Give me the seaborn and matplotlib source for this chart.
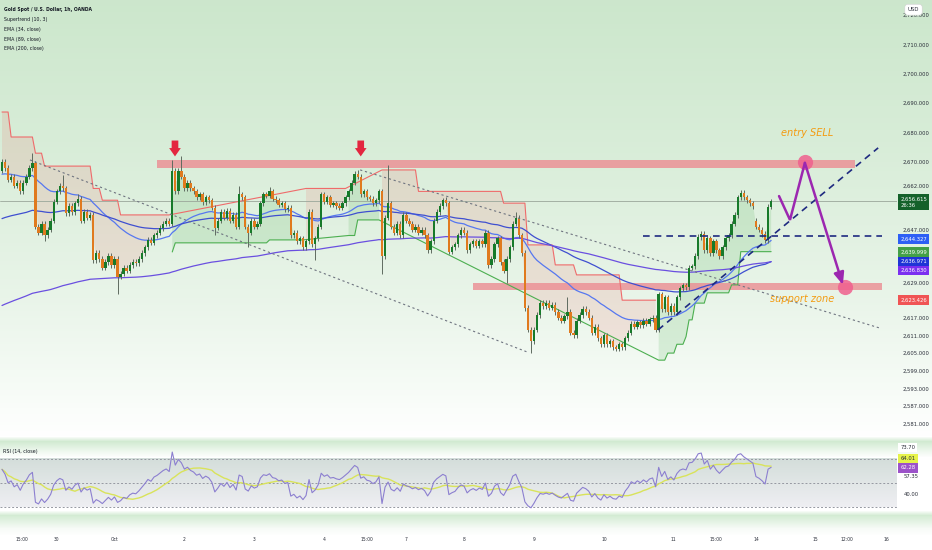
import numpy as np
import pandas as pd
import matplotlib
matplotlib.use("Agg")
import matplotlib.pyplot as plt
import matplotlib.transforms as mtransforms
from matplotlib import font_manager as fm
import seaborn as sns

# ---------------- data ----------------
closes = [
    2670, 2668, 2664, 2665, 2662, 2663, 2660, 2663, 2665, 2668,
    2669.5, 2648, 2646, 2649, 2645, 2647, 2650, 2656.5, 2660, 2662,
    2661, 2652.5, 2655, 2653, 2656, 2657.5, 2650, 2653, 2651, 2652,
    2636.5, 2639, 2637, 2634, 2636, 2638, 2635, 2637, 2631, 2632,
    2634, 2633, 2635, 2636, 2635.5, 2637, 2639, 2641, 2643.5, 2642.5,
    2645, 2646, 2647.5, 2649, 2650, 2649, 2667, 2660, 2667, 2665,
    2661, 2663, 2661, 2660, 2658, 2659, 2656.3, 2658, 2657, 2654.5,
    2647.7, 2650, 2653, 2651, 2653.5, 2650, 2652, 2648, 2659, 2658,
    2648, 2646, 2650, 2648, 2649, 2656, 2659, 2658.5, 2660, 2657.5,
    2657, 2655.5, 2656, 2654, 2654.5, 2645, 2646, 2643, 2644, 2641,
    2643, 2653, 2642, 2644, 2648, 2659, 2656.5, 2658, 2655.5, 2656,
    2655, 2654.5, 2656, 2658, 2660, 2663, 2666, 2665, 2659, 2660,
    2658, 2657.5, 2656, 2657, 2660, 2638, 2651, 2656, 2648, 2646,
    2649, 2645, 2652, 2650, 2649, 2647, 2648, 2646, 2647, 2645,
    2640, 2643, 2650, 2653, 2655, 2657, 2656, 2639.5, 2641, 2642,
    2645, 2647, 2646, 2640, 2642, 2643, 2641.5, 2643, 2642, 2646,
    2635, 2637, 2642, 2644, 2636, 2633, 2637, 2641, 2649, 2651,
    2645, 2639, 2620.3, 2613, 2609, 2613, 2618, 2622, 2621, 2622,
    2620.5, 2621.5, 2619, 2617, 2616, 2617.5, 2619, 2612, 2611, 2616,
    2618, 2620, 2619, 2617, 2612, 2614, 2610, 2608, 2611, 2608,
    2609, 2607, 2606.5, 2608, 2607, 2610, 2612, 2615, 2614, 2615.5,
    2614.5, 2616, 2615, 2616.5, 2617, 2613, 2625, 2620, 2624, 2619,
    2621, 2619, 2624, 2627, 2628, 2627.5, 2634, 2634.5, 2638, 2644.5,
    2645.5, 2640, 2644, 2639, 2643, 2640, 2638, 2641, 2644, 2645,
    2649, 2652, 2658, 2659.5, 2658, 2657, 2656, 2655, 2648, 2647,
    2645.5, 2643.5, 2654.8, 2656.6,
]
first_open = 2667.0
gap_opens = {248: 2650.0}
wick_highs = {10: 2673, 20: 2665.6, 25: 2659, 56: 2670.7, 59: 2672, 78: 2662,
              88: 2661.5, 117: 2667.3, 127: 2669, 146: 2658, 169: 2653,
              186: 2624, 243: 2660.2}
wick_lows = {14: 2643, 38: 2625, 56: 2649, 70: 2645, 81: 2641, 103: 2636.7,
             125: 2632, 166: 2628.7, 174: 2605, 251: 2642.8}

# Supertrend (10, 3) segments: start bar, end bar, level, direction (+1 up / -1 down)
st_start = [0, 3, 11, 14, 30, 33, 39, 56, 57, 88, 100, 114, 117, 125, 137, 165, 173,
            182, 189, 204, 216, 219, 222, 225, 226, 228, 232, 240, 243]
st_end = [2, 10, 13, 29, 32, 38, 55, 56, 87, 99, 113, 116, 124, 136, 164, 172, 181,
          188, 203, 215, 218, 221, 224, 225, 227, 231, 239, 242, 253]
st_level = [2687.0, 2678.5, 2673.0, 2668.6, 2661.0, 2657.0, 2652.0, 2639.4, 2642.5,
            2643.5, 2661.0, 2645.0, 2650.3, 2667.3, 2660.0, 2656.0, 2641.8, 2635.0,
            2631.6, 2623.0, 2602.6, 2605.0, 2608.0, 2610.6, 2616.3, 2622.0, 2625.5,
            2628.2, 2639.5]
st_dir = [-1, -1, -1, -1, -1, -1, -1, 1, 1, 1, -1, 1, 1, -1, -1, -1, -1, -1, -1, -1,
          1, 1, 1, 1, 1, 1, 1, 1, 1]

ema_periods = [34, 89, 200]
ema_seeds = [2665.6, 2650.3, 2620.7]
ema_colors = ["#5677f0", "#3f4fd0", "#6a4fe0"]
rsi_seed_gain, rsi_seed_loss = 1.2, 0.9

time_tick_bars = [6.6, 18, 37, 60, 83, 106, 120, 133, 152, 175, 198, 221, 235,
                  248, 267.5, 278, 291]
time_tick_labels = ["15:00", "30", "Oct", "2", "3", "4", "15:00", "7", "8", "9",
                    "10", "11", "15:00", "14", "15", "12:00", "16"]
price_ticks = [2720, 2710, 2700, 2690, 2680, 2670, 2662, 2647, 2629, 2617, 2611,
               2605, 2599, 2593, 2587, 2581]

# drawings (bar index, price)
resist_bars, resist_lo, resist_hi = [51, 280.6], 2668.0, 2670.6
support_bars, support_lo, support_hi = [155, 289.5], 2626.4, 2628.8
hline_bars, hline_price = [210.9, 289.5], 2644.7
trend_up_bars, trend_up_prices = [215.8, 288.2], [2612.9, 2674.8]
dot1_bars, dot1_prices = [9.2, 172.7], [2670.7, 2605.4]
dot2_bars, dot2_prices = [117.8, 288.8], [2667.3, 2613.5]
plan_bars = [255.6, 259.2, 264.1, 276.6]
plan_prices = [2658.4, 2650.3, 2669.7, 2628.2]
circle_bars, circle_prices = [264.1, 277.3], [2670.0, 2627.5]
arrow_bars = [56.9, 118.0]

# ---------------- style ----------------
sns.set_theme(style="white")
entries = fm.fontManager.ttflist
names = {f.name for f in entries}
cond = {f.name for f in entries if str(f.stretch) in ("condensed", "semi-condensed", "extra-condensed")}
if "Liberation Sans Narrow" in names:
    fam, stretch = "Liberation Sans Narrow", "normal"
elif cond:
    fam = next((p for p in ["DejaVu Sans", "Noto Sans", "Open Sans", "Roboto", "Liberation Sans"] if p in cond),
               sorted(cond)[0])
    stretch = "condensed"
else:
    fam, stretch = "Liberation Sans", "normal"
plt.rcParams["font.family"] = [fam, "DejaVu Sans"]
plt.rcParams["font.stretch"] = stretch
TXT = "#2a2e39"

W, H = 932, 550
fig = plt.figure(figsize=(W / 100, H / 100), dpi=100)
_r = fig.canvas.get_renderer()


def fit(text, px, **kw):
    t = fig.text(0, 0, text, fontsize=10, **kw)
    w = t.get_window_extent(_r).width
    t.remove()
    return 10 * px / w


FS = fit("2,720.000", 27)
LFS_B = fit("Gold Spot / U.S. Dollar, 1h, OANDA", 87, fontweight="bold")
LFS = fit("Supertrend (10, 3)", 44)
RFS = fit("RSI (14, close)", 35)
AFS = fit("entry SELL", 52, style="italic")
XFS = fit("15:00", 13)

# background gradient
bg = fig.add_axes([0, 0, 1, 1], zorder=-10)
stops_y = [0, 150, 300, 400, 436, 441, 452, 457, 510, 515, 528, 535, 550]
stops_c = [(0.80, 0.905, 0.80), (0.85, 0.93, 0.85), (0.915, 0.96, 0.915),
           (0.975, 0.99, 0.975), (1, 1, 1), (0.82, 0.92, 0.82), (0.95, 0.98, 0.95),
           (1, 1, 1), (1, 1, 1), (0.83, 0.925, 0.83), (0.97, 0.985, 0.97),
           (1, 1, 1), (1, 1, 1)]
ys = np.arange(H)
grad = np.stack([np.interp(ys, stops_y, [s[k] for s in stops_c]) for k in range(3)], axis=-1)[:, None, :]
bg.imshow(grad, aspect="auto", extent=[0, 1, 0, 1], origin="upper")
bg.axis("off")

XL = (-0.66, 294.4)
ax = fig.add_axes([0, 110 / H, 897 / W, 440 / H])
ax.set_facecolor("none")
axr = fig.add_axes([0, 1 - 513 / H, 897 / W, 66 / H])
axr.set_facecolor("none")

# ---------------- candles ----------------
c = np.array(closes, dtype=float)
n = len(c)
o = np.r_[first_open, c[:-1]]
for k, v in gap_opens.items():
    o[k] = v
bx = np.arange(n)
WICK_PAD = 0.9
hi = np.maximum(o, c) + WICK_PAD
lo = np.minimum(o, c) - WICK_PAD
for k, v in wick_highs.items():
    hi[k] = max(hi[k], v)
for k, v in wick_lows.items():
    lo[k] = min(lo[k], v)
up = c >= o
body_lo = np.minimum(o, c)
body_h = np.maximum(np.abs(c - o), 0.4)
mid = (o + c) / 2

# supertrend per bar
st = np.full(n, np.nan)
sd = np.zeros(n)
for s, e, lv, dr in zip(st_start, st_end, st_level, st_dir):
    st[s:e + 1] = lv
    sd[s:e + 1] = dr
st_red = np.where(sd < 0, st, np.nan)
st_grn = np.where(sd > 0, st, np.nan)
ax.fill_between(bx, st, mid, where=sd < 0, color="#ef5350", alpha=0.13, lw=0, zorder=1)
ax.fill_between(bx, st, mid, where=sd > 0, color="#4caf50", alpha=0.16, lw=0, zorder=1)
sns.lineplot(x=bx, y=st_red, ax=ax, color="#ef6b6b", lw=0.8, zorder=2)
sns.lineplot(x=bx, y=st_grn, ax=ax, color="#4caf50", lw=0.8, zorder=2)

# zones
ax.fill_between(resist_bars, resist_lo, resist_hi, color="#ec8c92", alpha=0.8, lw=0, zorder=1.5)
ax.fill_between(support_bars, support_lo, support_hi, color="#ec8c92", alpha=0.8, lw=0, zorder=1.5)

# current price line
ax.axhline(c[-1], color="#9aa79a", lw=0.6, zorder=1)

# EMAs
for per, seed, col in zip(ema_periods, ema_seeds, ema_colors):
    a = 2 / (per + 1)
    prev = seed
    vals = np.empty(n)
    for i, v in enumerate(c):
        prev = prev + a * (v - prev)
        vals[i] = prev
    sns.lineplot(x=bx, y=vals, ax=ax, color=col, lw=0.9, zorder=3)

ax.vlines(bx, lo, hi, color="#5f6b60", lw=0.7, zorder=4)
ax.bar(bx[up], body_h[up], bottom=body_lo[up], width=0.78, color="#177a2a", lw=0, zorder=5)
ax.bar(bx[~up], body_h[~up], bottom=body_lo[~up], width=0.78, color="#e07a1e", lw=0, zorder=5)

# trend lines
ax.plot(dot1_bars, dot1_prices, color="#6f7480", lw=0.8, ls=(0, (2, 2.5)), zorder=6)
ax.plot(dot2_bars, dot2_prices, color="#6f7480", lw=0.8, ls=(0, (2, 2.5)), zorder=6)
ax.plot(hline_bars, [hline_price, hline_price], color="#1f2a80", lw=1.2, ls=(0, (4, 3)), zorder=6)
ax.plot(trend_up_bars, trend_up_prices, color="#1f2a80", lw=1.2, ls=(0, (4, 3)), zorder=6)

# plan path
ax.scatter(circle_bars, circle_prices, s=120, color="#f0608e", alpha=0.85, lw=0, zorder=7)
ax.plot(plan_bars[:3], plan_prices[:3], color="#9c27b0", lw=1.8, zorder=8,
        solid_capstyle="round", solid_joinstyle="miter")
ax.annotate("", xy=(plan_bars[3], plan_prices[3]), xytext=(plan_bars[2], plan_prices[2]),
            arrowprops=dict(arrowstyle="-|>,head_length=0.6,head_width=0.25", color="#9c27b0",
                            lw=1.8, shrinkA=0, shrinkB=0), zorder=8)
ax.text(264.8, 2679.9, "entry SELL", color="#f39c12", fontsize=AFS,
        style="italic", ha="center", va="center", zorder=9)
ax.text(263.2, 2623.4, "support zone", color="#f39c12", fontsize=AFS,
        style="italic", ha="center", va="center", zorder=9)

# red arrows
for b in arrow_bars:
    ax.annotate("", xy=(b, 2671.9), xytext=(b, 2677.3),
                arrowprops=dict(arrowstyle="simple,head_width=0.7,head_length=0.5,tail_width=0.4",
                                color="#e3263f", lw=0, shrinkA=0, shrinkB=0), zorder=9)

ax.set_xlim(*XL)
ax.set_ylim(2575.44, 2725.1)
ax.set_xticks([])
ax.yaxis.tick_right()
ax.set_yticks(price_ticks)
ax.set_yticklabels([f"{v:,.3f}" for v in price_ticks])
ax.tick_params(axis="y", length=0, pad=4.2, labelsize=FS, labelcolor=TXT)
for sp in ax.spines.values():
    sp.set_visible(False)
ax.grid(False)
ax.set_xlabel("")
ax.set_ylabel("")

# price tags
tr = mtransforms.blended_transform_factory(ax.transAxes, ax.transData)


def tag(y, s, fc, tc="white", va="center"):
    ax.text(1.0035, y, s, transform=tr, ha="left", va=va, fontsize=FS, color=tc,
            bbox=dict(boxstyle="square,pad=0.4", fc=fc, ec="none"), clip_on=False, zorder=20,
            linespacing=1.3)


tag(2658.3, "2,656.615\n26:36", "#14612a", va="top")
tag(2643.7, "2,644.327", "#2d5ff5")
tag(2639.3, "2,639.999", "#43a047")
tag(2636.2, "2,636.971", "#1e34d6")
tag(2633.1, "2,636.830", "#7b2ff0")
tag(2623.1, "2,623.426", "#f05454")
ax.text(1.012, 2721.8, "USD", transform=tr, ha="left", va="center", fontsize=FS, color=TXT,
        bbox=dict(boxstyle="round,pad=0.5", fc="white", ec="#d0d0d0", lw=0.4), clip_on=False, zorder=20)

# legend texts
fig.text(4 / W, 1 - 9 / H, "Gold Spot / U.S. Dollar, 1h, OANDA", fontsize=LFS_B,
         fontweight="bold", color="#131722", va="center")
for yy, s in zip([19.5, 30, 39.5, 48.5],
                 ["Supertrend (10, 3)", "EMA (34, close)", "EMA (89, close)", "EMA (200, close)"]):
    fig.text(4 / W, 1 - yy / H, s, fontsize=LFS, color="#131722", va="center")

# ---------------- RSI ----------------
d = np.diff(np.r_[first_open, c])
ag, al = rsi_seed_gain, rsi_seed_loss
rsi = np.empty(n)
for i, dv in enumerate(d):
    ag = (ag * 13 + max(dv, 0)) / 14
    al = (al * 13 + max(-dv, 0)) / 14
    rsi[i] = 100 - 100 / (1 + ag / al)
rsi_ma = pd.Series(rsi).rolling(14, min_periods=1).mean().to_numpy()

rgrad = np.stack([np.linspace(a0, a1, 60) for a0, a1 in
                  zip((0.83, 0.87, 0.855), (0.935, 0.935, 0.95))], axis=-1)[:, None, :]
axr.imshow(rgrad, aspect="auto", extent=[XL[0], XL[1] + 2, 30, 70], origin="upper", zorder=0)
for lvl in (70, 50, 30):
    axr.axhline(lvl, color="#9598a1", lw=0.7, ls=(0, (2, 2)), zorder=1)
sns.lineplot(x=bx, y=rsi_ma, ax=axr, color="#d9e35a", lw=1.0, zorder=2)
sns.lineplot(x=bx, y=rsi, ax=axr, color="#8c7fd0", lw=0.8, zorder=3)
axr.set_xlim(*XL)
axr.set_ylim(25, 80)
axr.set_yticks([])
axr.set_xticks(time_tick_bars)
axr.set_xticklabels(time_tick_labels)
axr.tick_params(axis="x", length=0, pad=17.5, labelsize=XFS, labelcolor=TXT)
for sp in axr.spines.values():
    sp.set_visible(False)
axr.grid(False)
axr.set_xlabel("")
axr.set_ylabel("")

trr = mtransforms.blended_transform_factory(axr.transAxes, axr.transData)


def rtag(y, s, fc, tc):
    axr.text(1.0035, y, s, transform=trr, ha="left", va="center", fontsize=FS, color=tc,
             bbox=dict(boxstyle="square,pad=0.4", fc=fc, ec="none"), clip_on=False, zorder=20)


rtag(79.5, "73.70", "white", TXT)
rtag(70.0, "64.01", "#e6f34a", "#2a2e39")
rtag(62.6, "62.28", "#9c52c9", "white")
axr.text(1.0075, 55.0, "57.35", transform=trr, ha="left", va="center", fontsize=FS, color=TXT, clip_on=False)
axr.text(1.0075, 40.8, "40.00", transform=trr, ha="left", va="center", fontsize=FS, color=TXT, clip_on=False)
fig.text(3 / W, 1 - 452 / H, "RSI (14, close)", fontsize=RFS, color="#131722", va="center")

fig.savefig("out.png", dpi=100)
